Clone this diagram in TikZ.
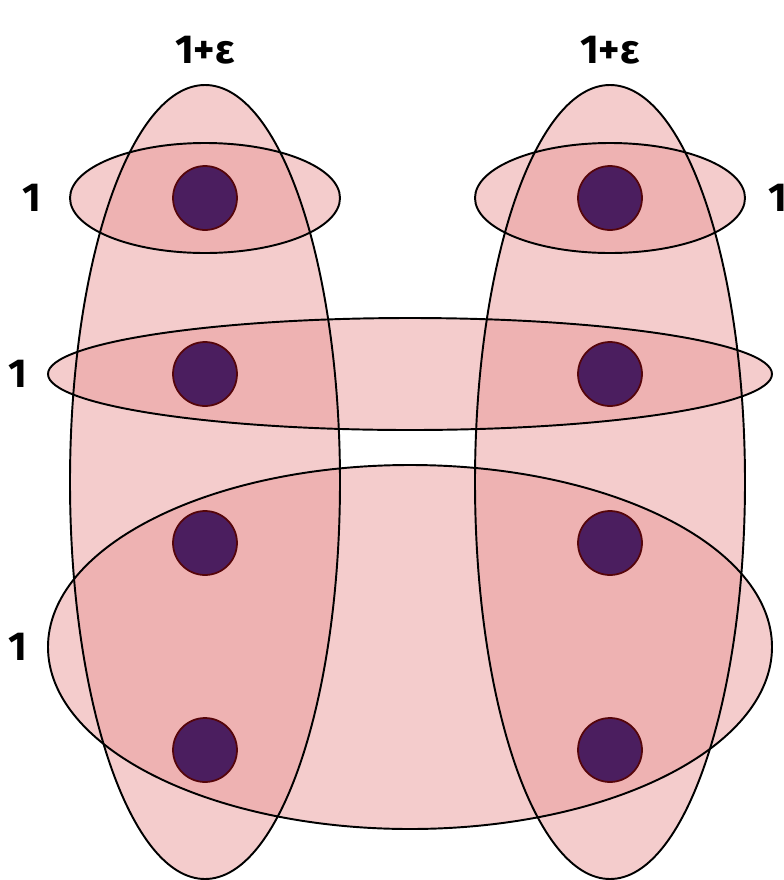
\documentclass[tikz,border=0pt]{standalone}
\usepackage{fontspec}
\setmainfont{Fira Sans}
\usepackage{xcolor}
\definecolor{edgepink}{RGB}{233,153,153}
\definecolor{vertpurple}{RGB}{75,30,95}
\definecolor{vertrim}{RGB}{85,5,10}
\tikzset{
  hedgefill/.style={fill=edgepink,fill opacity=0.5},
  hedgeline/.style={draw=black,line width=1.1pt},
  vert/.style={circle,draw=vertrim,line width=1pt,fill=vertpurple,minimum size=1.28cm,inner sep=0pt},
  weight/.style={font=\fontsize{23}{26}\selectfont\bfseries}
}

\begin{document}
\begin{tikzpicture}[x=0.02cm,y=-0.02cm]
\useasboundingbox (0,0) rectangle (784,880);
% hyperedges: fills first, outlines on top
\foreach \cx/\cy/\rx/\ry in {205/482/135/397,610/482/135/397,205/198/135/55,610/198/135/55,410/374/362/56,410/647/362/182}
  \fill[hedgefill] (\cx,\cy) ellipse [x radius=\rx,y radius=\ry];
\foreach \cx/\cy/\rx/\ry in {205/482/135/397,610/482/135/397,205/198/135/55,610/198/135/55,410/374/362/56,410/647/362/182}
  \draw[hedgeline] (\cx,\cy) ellipse [x radius=\rx,y radius=\ry];
% vertices
\node[vert] (a1) at (205,198) {};
\node[vert] (a2) at (205,374) {};
\node[vert] (a3) at (205,543) {};
\node[vert] (a4) at (205,750) {};
\node[vert] (b1) at (610,198) {};
\node[vert] (b2) at (610,374) {};
\node[vert] (b3) at (610,543) {};
\node[vert] (b4) at (610,750) {};
% weights
\node[weight] (wl) at (205,50) {1+ε};
\node[weight] (wr) at (610,50) {1+ε};
\node[weight] (wtl) at (32,198) {1};
\node[weight] (wtr) at (778,198) {1};
\node[weight] (wm) at (18,374) {1};
\node[weight] (wb) at (18,647) {1};
\end{tikzpicture}
\end{document}
